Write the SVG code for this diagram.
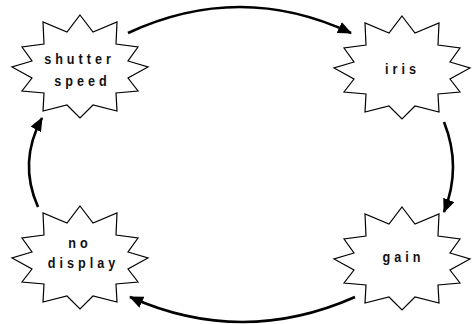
<svg xmlns="http://www.w3.org/2000/svg" width="472" height="324" viewBox="0 0 472 324">
<style>
.star{fill:#fff;stroke:#000;stroke-width:1.2;stroke-linejoin:miter}
.lbl{font-family:"Liberation Sans",Arial,sans-serif;font-weight:bold;font-size:14.5px;letter-spacing:4.6px;fill:#111;text-anchor:middle}
.edge{fill:none;stroke:#000;stroke-width:2.6}
</style>
<defs>
<path id="seal" class="star" d="M0,-52 L13,-35 L37,-45 L36,-23 L58,-20 L48,-6 L68,0 L48,11 L58,24 L36,26 L37,44 L13,38 L0,51 L-13,38 L-37,44 L-36,26 L-58,24 L-48,11 L-68,0 L-48,-6 L-58,-20 L-36,-23 L-37,-45 L-13,-35 Z"/>
<marker id="arr" markerUnits="userSpaceOnUse" markerWidth="14" markerHeight="12" viewBox="0 0 14 12" refX="13" refY="6" orient="auto">
<path d="M0,0 L14,6 L0,12 Z" fill="#000"/>
</marker>
</defs>
<g id="connectors">
<path class="edge" d="M128,33 Q240,-19 351,33" marker-end="url(#arr)"/>
<path class="edge" d="M444,122 Q462,167 444,212" marker-end="url(#arr)"/>
<path class="edge" d="M355,297 Q242,347 130,297" marker-end="url(#arr)"/>
<path class="edge" d="M38,207 Q18,162 42,118" marker-end="url(#arr)"/>
</g>
<g id="shutter-speed">
<use href="#seal" x="80" y="67"/>
<text class="lbl" transform="translate(79.5,64) scale(0.87,1)">shutter</text>
<text class="lbl" transform="translate(82.5,86) scale(0.87,1)">speed</text>
</g>
<g id="iris">
<use href="#seal" x="402" y="68"/>
<text class="lbl" transform="translate(402.5,74) scale(0.87,1)">iris</text>
</g>
<g id="no-display">
<use href="#seal" x="80" y="258"/>
<text class="lbl" transform="translate(80,248) scale(0.87,1)">no</text>
<text class="lbl" transform="translate(83.5,268) scale(0.87,1)">display</text>
</g>
<g id="gain">
<use href="#seal" x="402" y="259"/>
<text class="lbl" transform="translate(403.5,262) scale(0.87,1)">gain</text>
</g>
</svg>
